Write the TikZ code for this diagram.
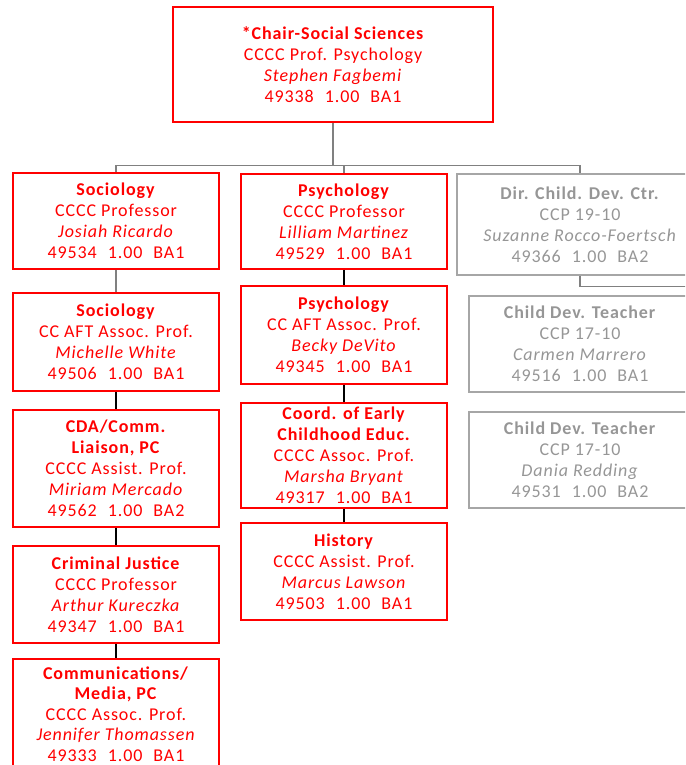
\documentclass[tikz,border=0pt]{standalone}
\usepackage{fontspec}
\setmainfont{Carlito}[LetterSpace=5]
\definecolor{chartred}{RGB}{255,0,0}
\definecolor{boxgray}{RGB}{166,166,166}
\definecolor{textgray}{RGB}{150,150,150}
\definecolor{linegray}{RGB}{128,128,128}
\newcommand{\numgap}{\hspace{11pt}}
\tikzset{
  post/.style={rectangle, align=center, inner sep=0pt,
    font=\fontsize{18}{21}\selectfont},
  redpost/.style={post, draw=chartred, text=chartred, line width=1.6pt,
    minimum width=206pt},
  graypost/.style={post, draw=boxgray, text=textgray, line width=1.2pt},
  grayline/.style={draw=linegray, line width=1.3pt},
  blackline/.style={draw=black, line width=1.3pt}
}
\begin{document}
\begin{tikzpicture}[x=1pt,y=-1pt]
\useasboundingbox (0,0) rectangle (685,765);
\clip (0,0) rectangle (685,765);
% head of the department
\node[redpost, line width=2.8pt, minimum width=320pt, minimum height=115pt] (chair) at (333,64.5)
  {\textbf{*Chair-Social Sciences}\\CCCC Prof. Psychology\\\textit{Stephen Fagbemi}\\49338\numgap 1.00\numgap BA1};
% left column
\node[redpost, minimum height=96pt] (soc1) at (116,221)
  {\textbf{Sociology}\\CCCC Professor\\\textit{Josiah Ricardo}\\49534\numgap 1.00\numgap BA1};
\node[redpost, minimum height=98pt] (soc2) at (116,342)
  {\textbf{Sociology}\\CC AFT Assoc. Prof.\\\textit{Michelle White}\\49506\numgap 1.00\numgap BA1};
\node[redpost, minimum height=117pt] (cda) at (116,468.5)
  {\textbf{CDA/Comm.}\\\textbf{Liaison, PC}\\CCCC Assist. Prof.\\\textit{Miriam Mercado}\\49562\numgap 1.00\numgap BA2};
\node[redpost, minimum height=97pt] (crim) at (116,594.5)
  {\textbf{Criminal Justice}\\CCCC Professor\\\textit{Arthur Kureczka}\\49347\numgap 1.00\numgap BA1};
\node[redpost, minimum height=110pt, font=\fontsize{18}{20.5}\selectfont] (comm) at (116,714)
  {\textbf{Communications/}\\\textbf{Media, PC}\\CCCC Assoc. Prof.\\\textit{Jennifer Thomassen}\\49333\numgap 1.00\numgap BA1};
% middle column
\node[redpost, minimum height=95pt] (psy1) at (344,221.5)
  {\textbf{Psychology}\\CCCC Professor\\\textit{Lilliam Martinez}\\49529\numgap 1.00\numgap BA1};
\node[redpost, minimum height=98pt] (psy2) at (344,335)
  {\textbf{Psychology}\\CC AFT Assoc. Prof.\\\textit{Becky DeVito}\\49345\numgap 1.00\numgap BA1};
\node[redpost, minimum height=105pt] (coord) at (344,455.5)
  {\textbf{Coord. of Early}\\\textbf{Childhood Educ.}\\CCCC Assoc. Prof.\\\textit{Marsha Bryant}\\49317\numgap 1.00\numgap BA1};
\node[redpost, minimum height=97pt] (hist) at (344,571.5)
  {\textbf{History}\\CCCC Assist. Prof.\\\textit{Marcus Lawson}\\49503\numgap 1.00\numgap BA1};
% right column
\node[graypost, minimum width=246pt, minimum height=101pt] (dir) at (580,224.5)
  {\textbf{Dir. Child. Dev. Ctr.}\\CCP 19-10\\\textit{Suzanne Rocco-Foertsch}\\49366\numgap 1.00\numgap BA2};
\node[graypost, minimum width=222pt, minimum height=96pt] (cdt1) at (580,344)
  {\textbf{Child Dev. Teacher}\\CCP 17-10\\\textit{Carmen Marrero}\\49516\numgap 1.00\numgap BA1};
\node[graypost, minimum width=222pt, minimum height=96pt] (cdt2) at (580,460)
  {\textbf{Child Dev. Teacher}\\CCP 17-10\\\textit{Dania Redding}\\49531\numgap 1.00\numgap BA2};
\coordinate (spine) at (705,460);
% connectors
\draw[grayline] (chair.south) -- ++(0,42) -| (soc1.north);
\draw[grayline] (chair.south) -- ++(0,42) -| (psy1.north);
\draw[grayline] (chair.south) -- ++(0,42) -| (dir.north);
\draw[grayline] (soc1) -- (soc2);
\draw[blackline] (soc2) -- (cda);
\draw[blackline] (cda) -- (crim);
\draw[blackline] (crim) -- (comm);
\draw[blackline] (psy1) -- (psy2);
\draw[blackline] (psy2) -- (coord);
\draw[blackline] (coord) -- (hist);
\draw[grayline] (dir.south) -- ++(0,11) -| (spine) -- (cdt2.east);
\draw[grayline] (cdt1.east) -- (cdt1.east -| spine);
\end{tikzpicture}
\end{document}
